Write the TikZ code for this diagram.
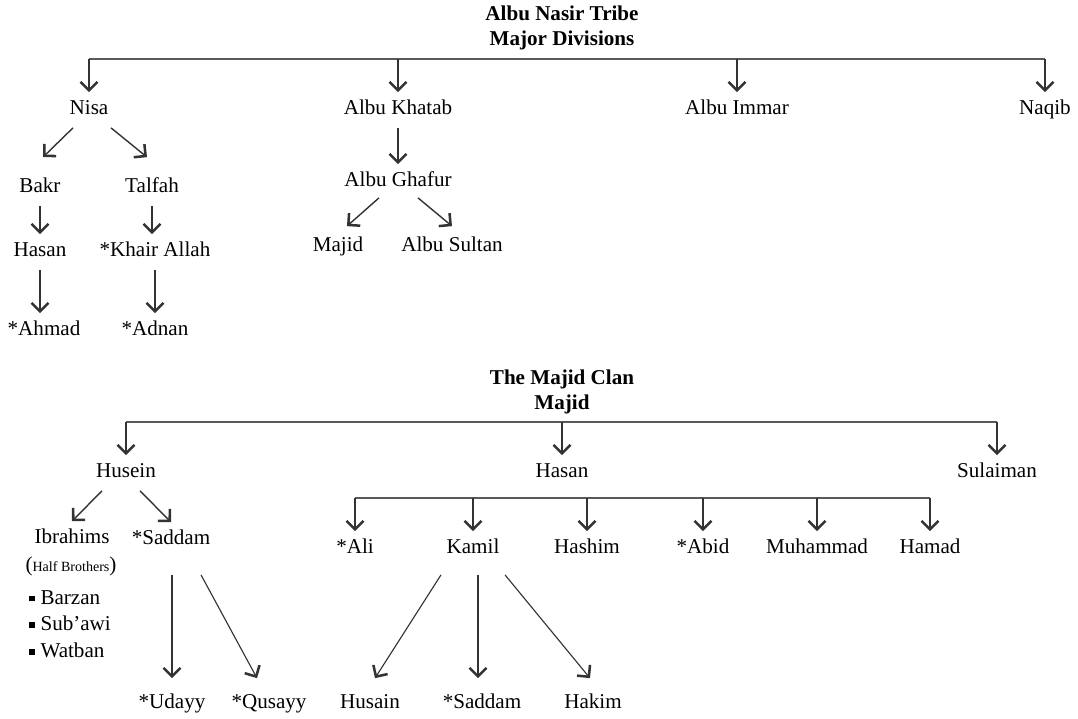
\documentclass[tikz,border=0pt]{standalone}
\usepackage{fontspec}
\setmainfont{Liberation Serif}
\usetikzlibrary{arrows.meta, calc}

\begin{document}
\begin{tikzpicture}[x=0.025cm, y=-0.025cm,
    nm/.style={inner xsep=3pt, inner ysep=6pt, text height=10pt, text depth=3pt, font=\fontsize{15}{18}\selectfont},
    hd/.style={align=center, inner sep=0pt, font=\bfseries\fontsize{15}{18}\selectfont},
    bar/.style={draw=black!65, line width=1.4pt},
    arr/.style={draw=black!80, line width=1pt, -{Straight Barb[length=6pt, width=12pt, line width=1.8pt]}},
    longarr/.style={arr, line width=0.8pt}]
\useasboundingbox (0,0) rectangle (1078,718);

% the tribe
\node[hd] (tribe) at (562,28) {Albu Nasir Tribe\\Major Divisions};
\coordinate (topbar) at (562,59);
\node[nm] (nisa) at (89,110) {Nisa};
\node[nm] (khatab) at (398,110) {Albu Khatab};
\node[nm] (immar) at (737,110) {Albu Immar};
\node[nm] (naqib) at (1045,110) {Naqib};
\draw[bar] (nisa |- topbar) -- (naqib |- topbar);
\draw[arr] (nisa |- topbar) -- (nisa.north);
\draw[arr] (khatab |- topbar) -- (khatab.north);
\draw[arr] (immar |- topbar) -- (immar.north);
\draw[arr] (naqib |- topbar) -- (naqib.north);

% Nisa
\node[nm] (bakr) at (40,188) {Bakr};
\node[nm] (talfah) at (152,188) {Talfah};
\node[nm] (hasanA) at (40,252) {Hasan};
\node[nm] (khair) at (155,252) {*Khair Allah};
\node[nm] (ahmad) at (44,331) {*Ahmad};
\node[nm] (adnan) at (155,331) {*Adnan};
\draw[arr] ($(nisa.south)+(-16,0)$) -- ($(bakr.north)+(3,-13)$);
\draw[arr] ($(nisa.south)+(22,0)$) -- ($(talfah.north)+(-5,-13)$);
\draw[arr] (bakr.south) -- (bakr.south |- hasanA.north);
\draw[arr] (talfah.south) -- (talfah.south |- khair.north);
\draw[arr] (hasanA.south) -- (hasanA.south |- ahmad.north);
\draw[arr] (khair.south) -- (khair.south |- adnan.north);

% Albu Khatab
\node[nm] (ghafur) at (398,182) {Albu Ghafur};
\node[nm] (majidA) at (338,247) {Majid};
\node[nm] (sultan) at (452,247) {Albu Sultan};
\draw[arr] (khatab.south) -- (khatab.south |- ghafur.north);
\draw[arr] ($(ghafur.south)+(-19,-2)$) -- ($(majidA.north)+(9,-3)$);
\draw[arr] ($(ghafur.south)+(20,-2)$) -- ($(sultan.north)+(0,-3)$);

% the clan
\node[hd] (clan) at (562,392) {The Majid Clan\\Majid};
\coordinate (clanbar) at (562,422);
\node[nm] (husein) at (126,473) {Husein};
\node[nm] (hasanB) at (562,473) {Hasan};
\node[nm] (sulaiman) at (997,473) {Sulaiman};
\draw[bar] (husein |- clanbar) -- (sulaiman |- clanbar);
\draw[arr] (husein |- clanbar) -- (husein.north);
\draw[arr] (hasanB |- clanbar) -- (hasanB.north);
\draw[arr] (sulaiman |- clanbar) -- (sulaiman.north);

% Husein
\node[nm] (ibrahims) at (72,539) {Ibrahims};
\node[nm] (saddamA) at (171,540) {*Saddam};
\node[inner sep=0pt, font=\fontsize{15}{18}\selectfont] (halfbro) at (71,566) {({\fontsize{10}{12}\selectfont Half Brothers})};
\node[anchor=west, align=left, inner sep=0pt, font=\fontsize{15}{19}\selectfont] (brothers) at (29,624)
  {\rule[2pt]{4pt}{4pt}\hspace{4pt}Barzan\\ \rule[2pt]{4pt}{4pt}\hspace{4pt}Sub’awi\\ \rule[2pt]{4pt}{4pt}\hspace{4pt}Watban};
\node[nm] (udayy) at (172,704) {*Udayy};
\node[nm] (qusayy) at (269,704) {*Qusayy};
\draw[arr] ($(husein.south)+(-24,0)$) -- (ibrahims.north);
\draw[arr] ($(husein.south)+(14,0)$) -- (saddamA.north);
\draw[longarr] ($(saddamA.south)+(1,17)$) -- ($(udayy.north)+(0,-8)$);
\draw[longarr] ($(saddamA.south)+(30,17)$) -- ($(qusayy.north)+(-12,-8)$);

% Hasan
\coordinate (hasanbar) at (562,498);
\node[nm] (ali) at (355,549) {*Ali};
\node[nm] (kamil) at (473,549) {Kamil};
\node[nm] (hashim) at (587,549) {Hashim};
\node[nm] (abid) at (703,549) {*Abid};
\node[nm] (muhammad) at (817,549) {Muhammad};
\node[nm] (hamad) at (930,549) {Hamad};
\draw[bar] (ali |- hasanbar) -- (hamad |- hasanbar);
\draw[arr] (ali |- hasanbar) -- (ali.north);
\draw[arr] (kamil |- hasanbar) -- (kamil.north);
\draw[arr] (hashim |- hasanbar) -- (hashim.north);
\draw[arr] (abid |- hasanbar) -- (abid.north);
\draw[arr] (muhammad |- hasanbar) -- (muhammad.north);
\draw[arr] (hamad |- hasanbar) -- (hamad.north);

% Kamil
\node[nm] (husain) at (370,704) {Husain};
\node[nm] (saddamB) at (482,704) {*Saddam};
\node[nm] (hakim) at (593,704) {Hakim};
\draw[longarr] ($(kamil.south)+(-32,8)$) -- ($(husain.north)+(5,-8)$);
\draw[longarr] ($(kamil.south)+(5,8)$) -- ($(kamil.south |- saddamB.north)+(5,-8)$);
\draw[longarr] ($(kamil.south)+(32,8)$) -- ($(hakim.north)+(-3,-8)$);
\end{tikzpicture}
\end{document}
